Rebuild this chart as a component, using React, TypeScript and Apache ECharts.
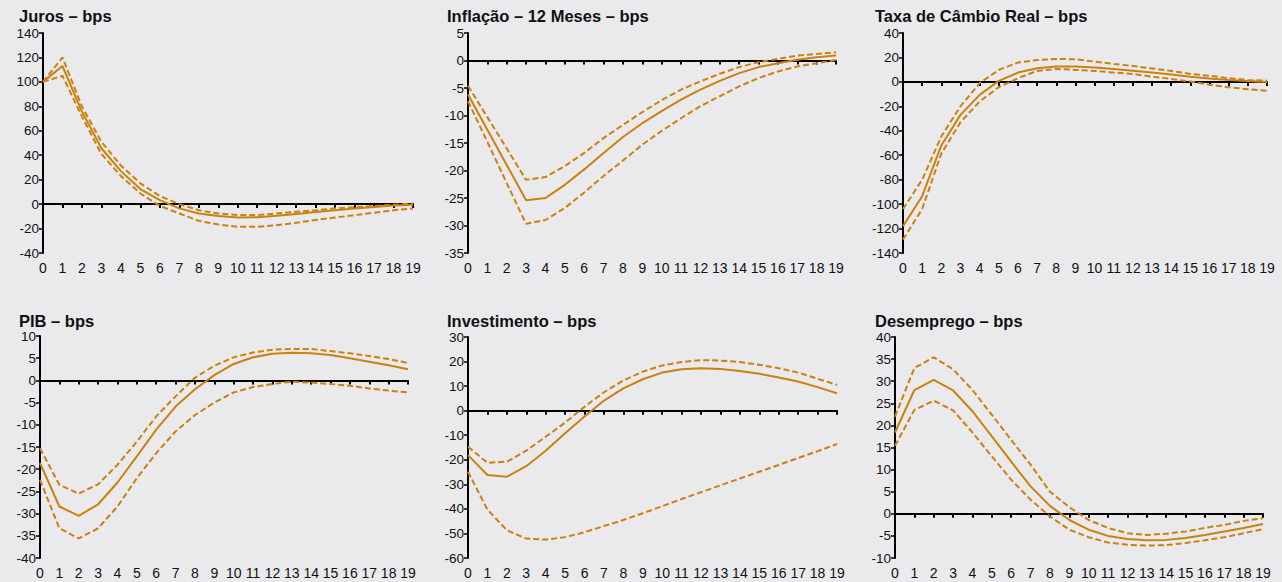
import React, { useEffect, useRef } from "react";
import * as echarts from "echarts";

const periods = Array.from({ length: 20 }, (_, i) => String(i));

const titles = [
  "Juros – bps",
  "Inflação – 12 Meses – bps",
  "Taxa de Câmbio Real – bps",
  "PIB – bps",
  "Investimento – bps",
  "Desemprego – bps",
];

// Juros
const jurosMid = [100, 113, 75.7, 45.7, 27, 12.3, 3.3, -3.5, -7.7, -9.8, -10.9, -10.7, -9.6, -8, -6.5, -5, -3.5, -2.3, -1.2, -0.5];
const jurosUp = [100, 120, 80, 51, 31.5, 17, 6.6, 0, -5, -7.7, -9, -9, -7.7, -6.3, -5, -3.5, -2.5, -1.5, -0.5, 0.5];
const jurosLo = [100, 105, 71.6, 41, 23, 8.7, -1.4, -7.7, -13.7, -16.7, -18.6, -18.6, -17.2, -15.3, -13, -11, -9, -7, -5, -3.5];

// Inflação
const inflMid = [-6.2, -12.6, -19, -25.4, -25, -22.6, -19.8, -16.8, -13.9, -11.4, -9.2, -7.1, -5.3, -3.7, -2.3, -1.2, -0.5, 0.15, 0.6, 0.9];
const inflUp = [-4.6, -10.3, -16, -21.7, -21.2, -19.2, -16.8, -14.1, -11.7, -9.4, -7.2, -5.3, -3.8, -2.4, -1.2, -0.3, 0.3, 0.9, 1.2, 1.5];
const inflLo = [-7.4, -14.8, -22.3, -29.7, -29, -26.8, -24, -21, -18.2, -15.3, -12.8, -10.5, -8.3, -6.5, -4.7, -3.2, -2, -1.1, -0.5, 0.1];

// Câmbio
const cambioMid = [-118, -93.5, -52, -27, -10.6, 0.8, 7.6, 11.1, 12.5, 12.5, 11.7, 10.6, 9.2, 7.6, 6, 4.3, 2.7, 1.6, 0.8, 0];
const cambioUp = [-104, -80, -44.6, -20, -1, 9.8, 15.8, 17.9, 18.8, 18.5, 16.6, 14.7, 13, 11, 9, 6.5, 5, 3, 1.6, 1];
const cambioLo = [-129, -104, -58.7, -33, -16, -4.3, 3, 9, 10.6, 9.8, 9, 7.6, 6.5, 4.3, 2.4, 0.3, -2.4, -4.3, -6, -7.3];

// PIB
const pibMid = [-18.6, -28.4, -30.5, -27.9, -23, -17.1, -11.1, -5.9, -2, 1.2, 3.7, 5.2, 6, 6.2, 6.1, 5.7, 5, 4.2, 3.4, 2.5];
const pibUp = [-15.3, -23.5, -25.5, -23.4, -19, -13.8, -8.1, -3.6, 0.6, 3.3, 5.2, 6.3, 6.9, 7.1, 7.1, 6.6, 6.1, 5.5, 4.8, 3.9];
const pibLo = [-22.4, -33.3, -35.6, -33.3, -28.4, -22, -16.4, -11.5, -7.8, -5, -2.7, -1.5, -0.8, -0.3, -0.5, -0.8, -1.2, -1.8, -2.3, -2.7];

// Investimento
const invMid = [-18.1, -26.2, -26.9, -22.6, -16.3, -9.2, -2.4, 4.1, 9.1, 12.8, 15.5, 16.9, 17.3, 17, 16.2, 15, 13.5, 11.9, 9.6, 7.1];
const invUp = [-14.7, -21.2, -20.8, -16.3, -10.6, -4.9, 1.6, 7.5, 12.3, 15.9, 18.4, 19.8, 20.6, 20.4, 19.8, 18.7, 17.3, 15.5, 13, 10.5];
const invLo = [-24.9, -40.3, -48.7, -52.1, -52.5, -51.5, -49.5, -47, -44.5, -41.8, -38.9, -36, -33.2, -30.4, -27.6, -24.9, -22.1, -19.3, -16.5, -13.6];

// Desemprego
const desMid = [18.4, 28, 30.3, 27.9, 23.2, 17.5, 11.8, 6.2, 1.8, -1.4, -3.6, -5, -5.7, -6, -5.9, -5.5, -4.8, -4, -3.2, -2.3];
const desUp = [22, 33, 35.4, 32.7, 28, 22.4, 16.7, 11.1, 5, 1.5, -1.4, -3.2, -4.4, -4.8, -4.5, -4, -3.2, -2.5, -1.6, -1];
const desLo = [15.4, 23.5, 25.6, 23.4, 18.4, 13, 7.7, 3.2, -0.6, -3.6, -5.3, -6.5, -7, -7.2, -7.1, -6.6, -6, -5.3, -4.4, -3.5];

const panelData = [
  [jurosMid, jurosUp, jurosLo],
  [inflMid, inflUp, inflLo],
  [cambioMid, cambioUp, cambioLo],
  [pibMid, pibUp, pibLo],
  [invMid, invUp, invLo],
  [desMid, desUp, desLo],
];

const yMins = [-40, -35, -140, -40, -60, -10];
const yMaxs = [140, 5, 40, 10, 30, 40];
const yIntervals = [20, 5, 20, 5, 10, 5];

const grids = [
  { left: 43, top: 33, width: 370, height: 220 },
  { left: 468, top: 33, width: 368, height: 220 },
  { left: 903, top: 33, width: 364, height: 220 },
  { left: 40, top: 336, width: 368, height: 222 },
  { left: 468, top: 337, width: 369, height: 221 },
  { left: 895, top: 337, width: 368, height: 221 },
];

const titlePos = [
  { left: 19, top: 7 },
  { left: 447, top: 7 },
  { left: 875, top: 7 },
  { left: 19, top: 312 },
  { left: 447, top: 312 },
  { left: 875, top: 312 },
];

const LINE_COLOR = "#C9820F";
const FONT = "'Liberation Sans', Arial, sans-serif";

export default function App() {
  const ref = useRef<HTMLDivElement>(null);

  useEffect(() => {
    document.body.style.margin = "0";
    if (!ref.current) return;
    const chart = echarts.init(ref.current, undefined, { renderer: "svg" });

    const xAxis: any[] = [];
    const yAxis: any[] = [];
    const series: any[] = [];

    grids.forEach((_, i) => {
      xAxis.push({
        type: "category",
        gridIndex: i,
        data: periods,
        boundaryGap: false,
        position: "bottom",
        axisLine: { show: false, onZero: false },
        axisTick: { show: false },
        axisLabel: {
          fontSize: 14,
          color: "#111",
          fontFamily: FONT,
          margin: 8,
          interval: 0,
        },
        splitLine: { show: false },
      });
      xAxis.push({
        type: "category",
        gridIndex: i,
        data: periods,
        boundaryGap: false,
        position: "bottom",
        axisLine: { show: true, onZero: true, lineStyle: { color: "#000", width: 2 } },
        axisTick: { show: true, inside: false, length: 4, interval: 0, lineStyle: { color: "#000", width: 2 } },
        axisLabel: { show: false },
        splitLine: { show: false },
      });
      yAxis.push({
        type: "value",
        gridIndex: i,
        min: yMins[i],
        max: yMaxs[i],
        interval: yIntervals[i],
        axisLine: { show: true, lineStyle: { color: "#000", width: 2 } },
        axisTick: { show: true, inside: false, length: 4, lineStyle: { color: "#000", width: 1.5 } },
        axisLabel: {
          fontSize: 13.5,
          color: "#111",
          fontFamily: FONT,
          margin: 4,
        },
        splitLine: { show: false },
      });
      const [mid, up, lo] = panelData[i];
      const common = {
        type: "line",
        xAxisIndex: i * 2,
        yAxisIndex: i,
        symbol: "none",
        smooth: false,
        z: 3,
      };
      series.push({ ...common, name: titles[i] + " mid", data: mid, lineStyle: { color: LINE_COLOR, width: 2 } });
      series.push({ ...common, name: titles[i] + " up", data: up, lineStyle: { color: LINE_COLOR, width: 2, type: [6, 3] } });
      series.push({ ...common, name: titles[i] + " lo", data: lo, lineStyle: { color: LINE_COLOR, width: 2, type: [6, 3] } });
    });

    chart.setOption({
      animation: false,
      backgroundColor: "#eaeaec",
      title: titles.map((t, i) => ({
        text: t,
        left: titlePos[i].left,
        top: titlePos[i].top,
        padding: 0,
        textStyle: {
          fontSize: 16.5,
          fontWeight: "bold",
          color: "#111",
          fontFamily: FONT,
        },
      })),
      grid: grids.map((g) => ({ ...g, containLabel: false })),
      xAxis,
      yAxis,
      series,
    });

    return () => chart.dispose();
  }, []);

  return <div ref={ref} style={{ width: 1282, height: 582 }} />;
}
